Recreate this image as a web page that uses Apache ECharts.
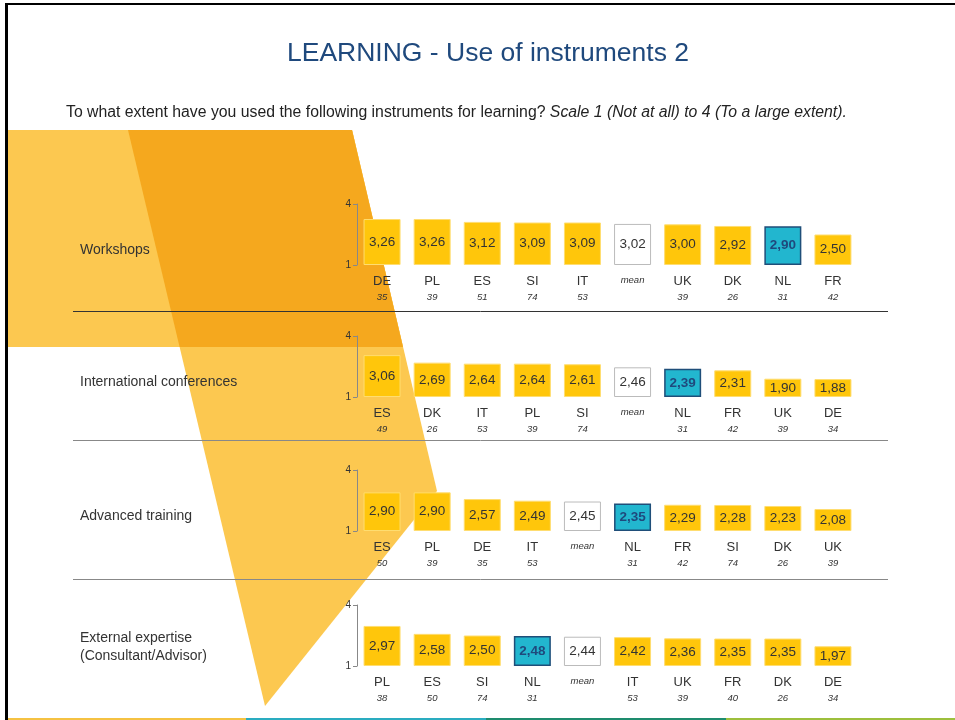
<!DOCTYPE html>
<html>
<head>
<meta charset="utf-8">
<script src="https://cdn.jsdelivr.net/npm/echarts@6/dist/echarts.min.js"></script>
<style>
html,body{margin:0;padding:0;background:#fff;}
#chart{width:955px;height:720px;}
</style>
</head>
<body>
<div id="chart"></div>
<script>
// ---- data ----
var titleText = 'LEARNING - Use of instruments 2';
var subtitleMain = 'To what extent have you used the following instruments for learning? ';
var subtitleItalic = 'Scale 1 (Not at all) to 4 (To a large extent).';
var rowNames = ['Workshops', 'International conferences', 'Advanced training', 'External expertise\n(Consultant/Advisor)'];

var workshopsCountries = ['DE','PL','ES','SI','IT','mean','UK','DK','NL','FR'];
var workshopsValues    = [3.26, 3.26, 3.12, 3.09, 3.09, 3.02, 3.00, 2.92, 2.90, 2.50];
var workshopsN         = ['35','39','51','74','53','','39','26','31','42'];

var conferencesCountries = ['ES','DK','IT','PL','SI','mean','NL','FR','UK','DE'];
var conferencesValues    = [3.06, 2.69, 2.64, 2.64, 2.61, 2.46, 2.39, 2.31, 1.90, 1.88];
var conferencesN         = ['49','26','53','39','74','','31','42','39','34'];

var trainingCountries = ['ES','PL','DE','IT','mean','NL','FR','SI','DK','UK'];
var trainingValues    = [2.90, 2.90, 2.57, 2.49, 2.45, 2.35, 2.29, 2.28, 2.23, 2.08];
var trainingN         = ['50','39','35','53','','31','42','74','26','39'];

var expertiseCountries = ['PL','ES','SI','NL','mean','IT','UK','FR','DK','DE'];
var expertiseValues    = [2.97, 2.58, 2.50, 2.48, 2.44, 2.42, 2.36, 2.35, 2.35, 1.97];
var expertiseN         = ['38','50','74','31','','53','39','40','26','34'];

var scaleMin = 1, scaleMax = 4;

// ---- layout / style ----
var FONT = 'Liberation Sans, Arial, sans-serif';
var rows = [
  {c: workshopsCountries, v: workshopsValues, n: workshopsN, top: 204, labelY: 250},
  {c: conferencesCountries, v: conferencesValues, n: conferencesN, top: 336, labelY: 382},
  {c: trainingCountries, v: trainingValues, n: trainingN, top: 470, labelY: 516},
  {c: expertiseCountries, v: expertiseValues, n: expertiseN, top: 605, labelY: 647}
];
var YELLOW = '#FFC60B', LIGHT = '#FCC850', DARK = '#F5A81E';

var grids = [], xAxes = [], yAxes = [], series = [];
rows.forEach(function (r, i) {
  grids.push({left: 357, width: 501, top: r.top, height: 61});
  xAxes.push({
    type: 'category', gridIndex: i, data: r.c,
    axisLine: {show: false}, axisTick: {show: false},
    axisLabel: {
      interval: 0, margin: 8, color: '#333', fontFamily: FONT,
      formatter: (function (nArr) {
        return function (val, idx) {
          if (val === 'mean') return '{m|mean}';
          return '{c|' + val + '}\n{n|' + nArr[idx] + '}';
        };
      })(r.n),
      rich: {
        c: {fontSize: 13, lineHeight: 16, color: '#333', fontFamily: FONT},
        n: {fontSize: 9.5, lineHeight: 16, fontStyle: 'italic', color: '#333', fontFamily: FONT},
        m: {fontSize: 9.5, lineHeight: 14, fontStyle: 'italic', color: '#333', fontFamily: FONT}
      }
    }
  });
  yAxes.push({
    type: 'value', gridIndex: i, min: scaleMin, max: scaleMax, interval: 3, startValue: 1,
    axisLine: {show: true, lineStyle: {color: '#888', width: 1}},
    axisTick: {show: true, length: 4, lineStyle: {color: '#888'}},
    splitLine: {show: false},
    axisLabel: {fontSize: 10, color: '#333', margin: 6, fontFamily: FONT}
  });
  series.push({
    type: 'bar', xAxisIndex: i, yAxisIndex: i, barWidth: 37, clip: true,
    data: r.v.map(function (v, k) {
      var c = r.c[k];
      var item = {value: v};
      if (c === 'mean') {
        item.itemStyle = {color: '#fff', borderColor: '#BBBBBB', borderWidth: 1};
      } else if (c === 'NL') {
        item.itemStyle = {color: '#22B6CF', borderColor: '#1F4E79', borderWidth: 1.5};
        item.label = {color: '#1F497D', fontWeight: 'bold'};
      }
      return item;
    }),
    itemStyle: {color: YELLOW, borderColor: '#FFDD70', borderWidth: 1},
    label: {
      show: true, position: 'inside', fontSize: 13.5, color: '#333', fontFamily: FONT,
      formatter: function (p) { return p.value.toFixed(2).replace('.', ','); }
    }
  });
});

var graphics = [
  // background shapes
  {type: 'polygon', z: -10, shape: {points: [[7,130],[352,130],[403,347],[7,347]]}, style: {fill: LIGHT}},
  {type: 'polygon', z: -10, shape: {points: [[128,130],[352,130],[437,491],[265,706]]}, style: {fill: LIGHT}},
  {type: 'polygon', z: -9, shape: {points: [[128,130],[352,130],[403,347],[179.6,347]]}, style: {fill: DARK}},
  // frame
  {type: 'rect', z: 5, shape: {x: 5, y: 3, width: 950, height: 2}, style: {fill: '#000'}},
  {type: 'rect', z: 5, shape: {x: 5, y: 3, width: 3, height: 717}, style: {fill: '#000'}},
  {type: 'rect', z: 5, shape: {x: 8, y: 718, width: 238, height: 2}, style: {fill: '#F5C242'}},
  {type: 'rect', z: 5, shape: {x: 246, y: 718, width: 240, height: 2}, style: {fill: '#2AACC0'}},
  {type: 'rect', z: 5, shape: {x: 486, y: 718, width: 240, height: 2}, style: {fill: '#1E8C6E'}},
  {type: 'rect', z: 5, shape: {x: 726, y: 718, width: 229, height: 2}, style: {fill: '#9DBF3C'}},
  // separators
  {type: 'line', z: 1, shape: {x1: 73, y1: 311.5, x2: 888, y2: 311.5}, style: {stroke: '#333', lineWidth: 1}},
  {type: 'line', z: 1, shape: {x1: 73, y1: 440.5, x2: 888, y2: 440.5}, style: {stroke: '#888', lineWidth: 1}},
  {type: 'line', z: 1, shape: {x1: 73, y1: 579.5, x2: 888, y2: 579.5}, style: {stroke: '#888', lineWidth: 1}},
  // title
  {type: 'text', z: 5, style: {x: 488, y: 54, text: titleText, fill: '#1F497D', font: '26.5px ' + FONT, textAlign: 'center', textVerticalAlign: 'middle'}},
  {type: 'text', z: 5, style: {
    x: 66, y: 113, textVerticalAlign: 'middle',
    text: '{a|' + subtitleMain + '}{b|' + subtitleItalic + '}',
    rich: {
      a: {fontSize: 15.8, fill: '#222', fontFamily: FONT},
      b: {fontSize: 15.8, fill: '#222', fontStyle: 'italic', fontFamily: FONT}
    }
  }}
];
rows.forEach(function (r, i) {
  graphics.push({type: 'text', z: 5, style: {
    x: 80, y: r.labelY, text: rowNames[i], fill: '#333', font: '14px ' + FONT,
    textVerticalAlign: 'middle', lineHeight: 18
  }});
});

var chart = echarts.init(document.getElementById('chart'), null, {renderer: 'canvas'});
chart.setOption({
  animation: false,
  backgroundColor: '#fff',
  grid: grids, xAxis: xAxes, yAxis: yAxes, series: series,
  graphic: {elements: graphics}
});
</script>
</body>
</html>
